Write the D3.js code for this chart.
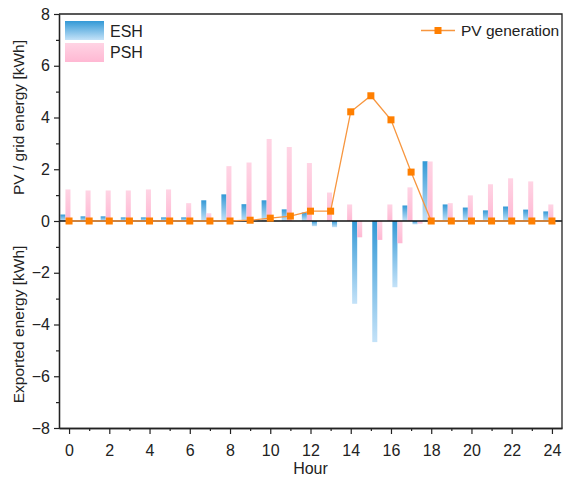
<!DOCTYPE html>
<html>
<head>
<meta charset="utf-8">
<script src="https://cdn.jsdelivr.net/npm/d3@7"></script>
<style>
  body { margin: 0; background: #fff; }
  text { font-family: Arial, "Liberation Sans", sans-serif; fill: #222; }
</style>
</head>
<body>
<script>
//-----------------Data----------------

const hours = [0, 1, 2, 3, 4, 5, 6, 7, 8, 9, 10, 11, 12, 13, 14, 15, 16, 17, 18, 19, 20, 21, 22, 23, 24];
const eshGrid = [0.25, 0.18, 0.18, 0.14, 0.14, 0.14, 0.14, 0.8, 1.03, 0.65, 0.8, 0.45, 0.33, 0, 0, 0, 0, 0.6, 2.31, 0.64, 0.52, 0.41, 0.56, 0.44, 0.37];
const pshGrid = [1.22, 1.18, 1.18, 1.18, 1.22, 1.22, 0.69, 0.3, 2.12, 2.26, 3.17, 2.86, 2.24, 1.1, 0.64, 0, 0.64, 1.3, 2.3, 0.69, 0.99, 1.42, 1.65, 1.53, 0.64];
const eshExport = [0, 0, 0, 0, 0, 0, 0, 0, 0, 0, 0, 0, -0.2, -0.24, -3.2, -4.68, -2.56, -0.13, 0, 0, 0, 0, 0, 0, 0];
const pshExport = [0, 0, 0, 0, 0, 0, 0, 0, 0, 0, 0, 0, 0, 0, -0.63, -0.73, -0.86, -0.1, 0, 0, 0, 0, 0, 0, 0];
const pvGen = [0, 0, 0, 0, 0, 0, 0, 0, 0, 0.03, 0.11, 0.19, 0.38, 0.38, 4.22, 4.84, 3.91, 1.89, 0, 0, 0, 0, 0, 0, 0];
const yTicks = [-8, -6, -4, -2, 0, 2, 4, 6, 8];
const xTicks = [0, 2, 4, 6, 8, 10, 12, 14, 16, 18, 20, 22, 24];

//-----------------SVG----------------

const width = 563;
const height = 483;
const padLeft = 59, padRight = 562, padTop = 14, padBottom = 428;
const orange = "#ff7f00";

const svg = d3.select("body").append("svg").attr("width", width).attr("height", height);

const defs = svg.append("defs");
const blueGrad = defs.append("linearGradient").attr("id", "blue").attr("x1", 0).attr("y1", 0).attr("x2", 0).attr("y2", 1);
blueGrad.append("stop").attr("offset", "0%").attr("stop-color", "#3399d6");
blueGrad.append("stop").attr("offset", "100%").attr("stop-color", "#c4e2f8");
const pinkGrad = defs.append("linearGradient").attr("id", "pink").attr("x1", 0).attr("y1", 0).attr("x2", 0).attr("y2", 1);
pinkGrad.append("stop").attr("offset", "0%").attr("stop-color", "#ffd4e4");
pinkGrad.append("stop").attr("offset", "100%").attr("stop-color", "#ffb8d3");

const xScale = d3.scaleLinear().domain([-0.5, 24.5]).range([padLeft, padRight]);
const yScale = d3.scaleLinear().domain([-8, 8]).range([padBottom, padTop]);

//-----------------Bars----------------

const barW = 0.25;
const series = [
  { values: eshGrid, offset: -0.43, fill: "url(#blue)" },
  { values: pshGrid, offset: -0.18, fill: "url(#pink)" },
  { values: eshExport, offset: 0.07, fill: "url(#blue)" },
  { values: pshExport, offset: 0.32, fill: "url(#pink)" }
];

series.forEach((s) => {
  svg
    .append("g")
    .selectAll("rect")
    .data(hours.filter((h, i) => s.values[i] !== 0))
    .enter()
    .append("rect")
    .attr("x", (h) => xScale(h + s.offset))
    .attr("width", (h) => xScale(h + s.offset + barW) - xScale(h + s.offset))
    .attr("y", (h) => yScale(Math.max(0, s.values[h])))
    .attr("height", (h) => Math.abs(yScale(s.values[h]) - yScale(0)))
    .style("fill", s.fill);
});

// zero line
svg
  .append("line")
  .attr("x1", padLeft)
  .attr("x2", padRight)
  .attr("y1", yScale(0))
  .attr("y2", yScale(0))
  .style("stroke", "#111")
  .style("stroke-width", 1.6);

//-----------------PV line----------------

const line = d3.line().x((h) => xScale(h)).y((h) => yScale(pvGen[h]));

svg
  .append("path")
  .datum(hours)
  .attr("d", line)
  .style("fill", "none")
  .style("stroke", "#f7963f")
  .style("stroke-width", 1.3);

svg
  .append("g")
  .selectAll("rect")
  .data(hours)
  .enter()
  .append("rect")
  .attr("x", (h) => xScale(h) - 3.5)
  .attr("y", (h) => yScale(pvGen[h]) - 3.5)
  .attr("width", 7)
  .attr("height", 7)
  .style("fill", orange);

//-----------------Axes----------------

const fmt = (d) => (d < 0 ? "\u2212" + Math.abs(d) : d);

svg
  .append("g")
  .attr("transform", "translate(" + padLeft + ",0)")
  .call(d3.axisLeft(yScale).tickValues(yTicks).tickSize(5).tickPadding(4).tickFormat(fmt).tickSizeOuter(0));
svg
  .append("g")
  .attr("transform", "translate(" + padLeft + ",0)")
  .call(d3.axisLeft(yScale).tickValues([-7, -5, -3, -1, 1, 3, 5, 7]).tickSize(3).tickFormat("").tickSizeOuter(0));

svg
  .append("g")
  .attr("transform", "translate(0," + padBottom + ")")
  .call(d3.axisBottom(xScale).tickValues(xTicks).tickSize(6).tickPadding(11).tickSizeOuter(0));
svg
  .append("g")
  .attr("transform", "translate(0," + padBottom + ")")
  .call(d3.axisBottom(xScale).tickValues(hours.filter((h) => h % 2 === 1)).tickSize(3).tickFormat("").tickSizeOuter(0));

svg.selectAll(".domain").style("stroke", "#222").style("stroke-width", 1.3);
svg.selectAll(".tick line").style("stroke", "#222").style("stroke-width", 1.2);
svg.selectAll(".tick text").style("font-size", "16px").style("fill", "#222").style("font-family", "Arial, 'Liberation Sans', sans-serif");

// frame top / right
svg
  .append("path")
  .attr("d", "M" + padLeft + "," + padTop + "H" + padRight + "V" + padBottom)
  .style("fill", "none")
  .style("stroke", "#222")
  .style("stroke-width", 1.3);

//-----------------Titles----------------

svg
  .append("text")
  .attr("x", (padLeft + padRight) / 2)
  .attr("y", 474)
  .style("text-anchor", "middle")
  .style("font-size", "16px")
  .text("Hour");

svg
  .append("text")
  .attr("transform", "translate(24," + yScale(4) + ") rotate(-90)")
  .style("text-anchor", "middle")
  .style("font-size", "15.5px")
  .text("PV / grid energy [kWh]");

svg
  .append("text")
  .attr("transform", "translate(24," + yScale(-4) + ") rotate(-90)")
  .style("text-anchor", "middle")
  .style("font-size", "15.5px")
  .text("Exported energy [kWh]");

//-----------------Legend----------------

const legend = svg.append("g");

legend.append("rect").attr("x", 65).attr("y", 21).attr("width", 39).attr("height", 19).style("fill", "url(#blue)");
legend.append("text").attr("x", 110).attr("y", 37).style("font-size", "16px").text("ESH");
legend.append("rect").attr("x", 65).attr("y", 43).attr("width", 39).attr("height", 19).style("fill", "url(#pink)");
legend.append("text").attr("x", 110).attr("y", 58).style("font-size", "16px").text("PSH");

legend
  .append("line")
  .attr("x1", 421)
  .attr("x2", 455)
  .attr("y1", 30.5)
  .attr("y2", 30.5)
  .style("stroke", "#f7963f")
  .style("stroke-width", 1.3);
legend.append("rect").attr("x", 434.5).attr("y", 27).attr("width", 7).attr("height", 7).style("fill", orange);
legend.append("text").attr("x", 461).attr("y", 36).style("font-size", "15.5px").text("PV generation");
</script>
</body>
</html>
